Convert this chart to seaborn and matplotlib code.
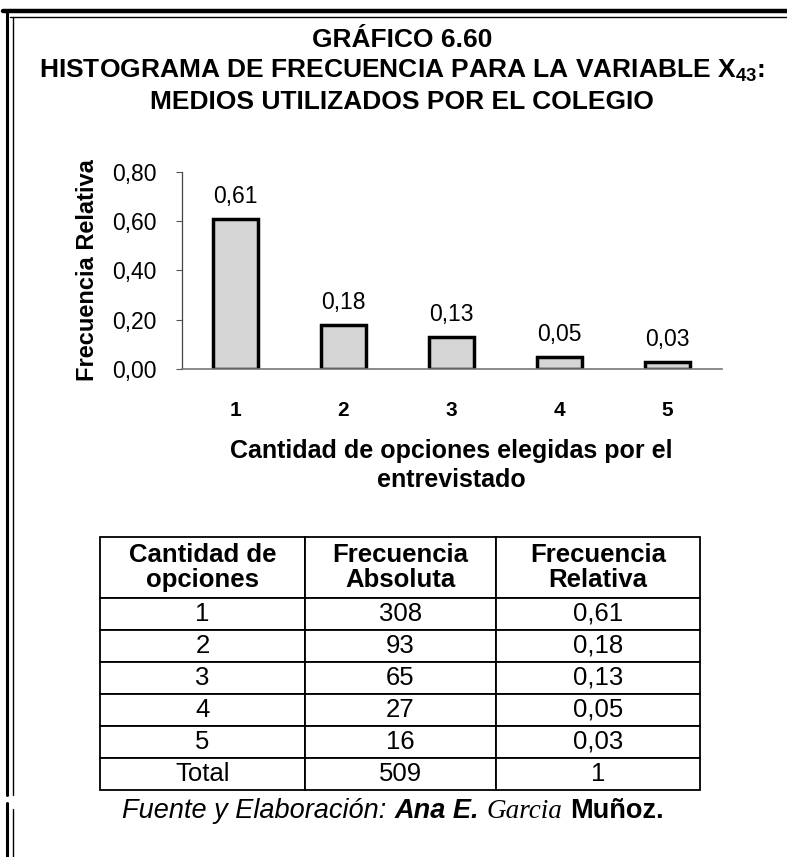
import matplotlib
matplotlib.use("Agg")
import matplotlib.pyplot as plt
import seaborn as sns
import pandas as pd
from matplotlib.lines import Line2D

# data
opciones = ["1", "2", "3", "4", "5"]
frec_abs = [308, 93, 65, 27, 16]
frec_rel = [0.61, 0.18, 0.13, 0.05, 0.03]
frec_rel_txt = ["0,61", "0,18", "0,13", "0,05", "0,03"]
total_abs = "509"
total_rel = "1"
y_ticks = [0.0, 0.2, 0.4, 0.6, 0.8]
y_tick_labels = ["0,00", "0,20", "0,40", "0,60", "0,80"]
table_header = ["Cantidad de\nopciones", "Frecuencia\nAbsoluta", "Frecuencia\nRelativa"]

sns.set_theme(style="white")
plt.rcParams["font.family"] = ["Liberation Sans", "DejaVu Sans"]
plt.rcParams["text.color"] = "black"
plt.rcParams["xtick.color"] = "black"
plt.rcParams["ytick.color"] = "black"
plt.rcParams["axes.labelcolor"] = "black"
plt.rcParams["mathtext.fontset"] = "custom"
plt.rcParams["mathtext.bf"] = "Liberation Sans:bold"
plt.rcParams["mathtext.rm"] = "Liberation Sans"

W, H = 787, 857
fig = plt.figure(figsize=(W / 100, H / 100), dpi=100)


def fx(px):
    return px / W


def fy(py):
    return 1 - py / H


# page border (scanned frame)
fig.add_artist(Line2D([fx(3), 1], [fy(11), fy(11)], color="black", lw=3.2))
fig.add_artist(Line2D([fx(10), 1], [fy(17), fy(17)], color="black", lw=1.0))
for seg in [(11, 795), (803, 857)]:
    fig.add_artist(Line2D([fx(7), fx(7)], [fy(seg[0]), fy(seg[1])], color="black", lw=2.2))
    fig.add_artist(Line2D([fx(13), fx(13)], [fy(seg[0] + 6), fy(seg[1])], color="black", lw=1.0))

# titles
fig.text(fx(402), fy(40), "GRÁFICO 6.60", ha="center", va="center", fontsize=19, fontweight="bold")
fig.text(fx(402), fy(71), r"HISTOGRAMA DE FRECUENCIA PARA LA VARIABLE $\mathbf{X_{43}}$:",
         ha="center", va="center", fontsize=19, fontweight="bold")
fig.text(fx(402), fy(102), "MEDIOS UTILIZADOS POR EL COLEGIO", ha="center", va="center",
         fontsize=19, fontweight="bold")

# bar chart
ax = fig.add_axes([fx(181.5), fy(369), 540 / W, 197 / H])
df = pd.DataFrame({"opcion": opciones, "rel": frec_rel})
sns.barplot(data=df, x="opcion", y="rel", color="#d6d6d6", saturation=1,
            edgecolor="black", linewidth=2.5, width=0.41, ax=ax)
ax.bar_label(ax.containers[0], labels=frec_rel_txt, padding=8, fontsize=16.5)
ax.set_ylim(0, 0.8)
ax.set_xlim(-0.5, 4.5)
ax.set_yticks(y_ticks, y_tick_labels, fontsize=16.5)
ax.set_xticks(range(len(opciones)), opciones, fontsize=15, fontweight="bold")
ax.set_xticks([i - 0.5 for i in range(len(opciones) + 1)], minor=True)
ax.tick_params(axis="x", which="major", length=0, pad=23)
ax.tick_params(axis="x", which="minor", length=7, width=1, color="#555555", direction="out")
ax.tick_params(axis="y", which="major", length=4, width=0.8, color="#555555", direction="out", pad=14, left=True)
for s in ["top", "right"]:
    ax.spines[s].set_visible(False)
ax.spines["left"].set_color("#444444")
ax.spines["left"].set_linewidth(0.9)
ax.spines["bottom"].set_color("#777777")
ax.spines["bottom"].set_linewidth(1.2)
ax.set_xlabel("")
ax.set_ylabel("Frecuencia Relativa", fontsize=17, fontweight="bold")
ax.yaxis.set_label_coords(-0.152, 0.5)
# two-line x title; baseline given for the last line
fig.text(fx(451), fy(487), "Cantidad de opciones elegidas por el\nentrevistado", ha="center",
         va="baseline", fontsize=18, fontweight="bold", linespacing=1.25)

# frequency table
tax = fig.add_axes([fx(100), fy(790), 600 / W, 253 / H])
tax.axis("off")
cell_text = [[o, str(a), r] for o, a, r in zip(opciones, frec_abs, frec_rel_txt)]
cell_text.append(["Total", total_abs, total_rel])
tbl = tax.table(cellText=cell_text, colLabels=table_header, cellLoc="center",
                colWidths=[205 / 600, 191 / 600, 204 / 600], bbox=[0, 0, 1, 1])
tbl.auto_set_font_size(False)
tbl.set_fontsize(18.5)
for (r, c), cell in tbl.get_celld().items():
    cell.set_height(61 if r == 0 else 32)
    cell.set_linewidth(1.3)
    cell.set_edgecolor("black")
    if r == 0:
        cell.get_text().set_fontweight("bold")
        cell.get_text().set_linespacing(1.1)

# source line
pieces = [("Fuente y Elaboración:", dict(style="italic")),
          ("Ana E.", dict(style="italic", fontweight="bold")),
          ("Garcia", dict(style="italic", family=["Liberation Serif"])),
          ("Muñoz.", dict(fontweight="bold"))]
renderer = fig.canvas.get_renderer()
x = fx(122)
for txt, kw in pieces:
    t = fig.text(x, fy(818), txt, ha="left", va="baseline", fontsize=19.5, **kw)
    bb = t.get_window_extent(renderer)
    x = (bb.x1 + 8) / W

fig.savefig("out.png", dpi=100)
